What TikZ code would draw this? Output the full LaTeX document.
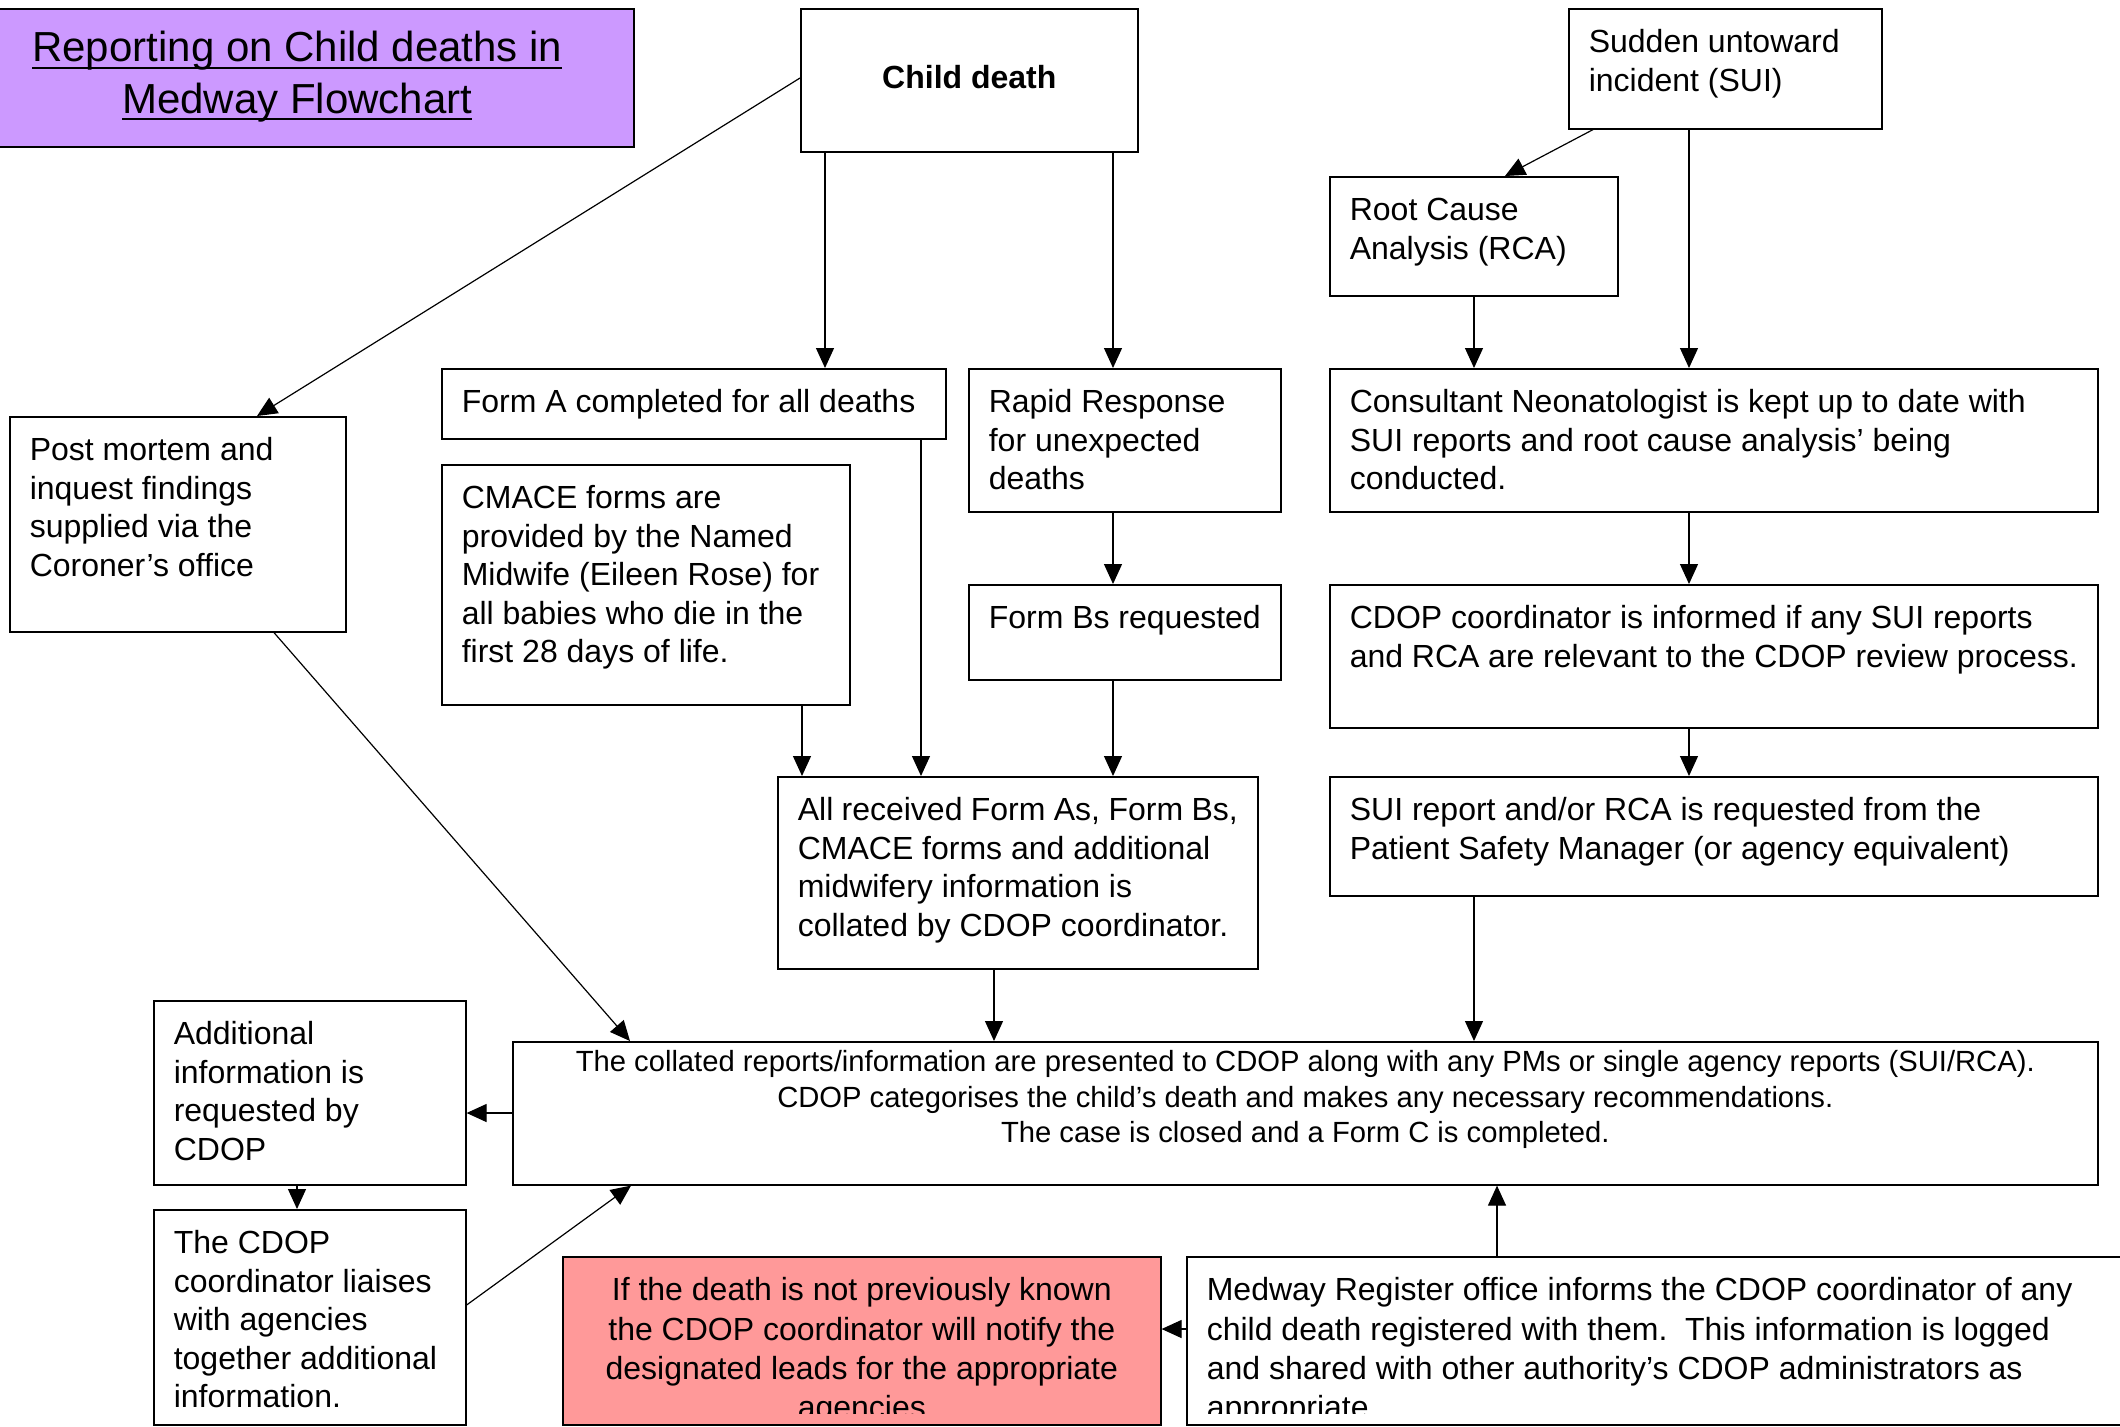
\documentclass[tikz,border=0pt]{standalone}
\usepackage{fontspec}
\setmainfont{Liberation Sans}
\usetikzlibrary{arrows.meta}
\definecolor{purp}{HTML}{CC99FF}
\definecolor{pinkfill}{HTML}{FF9999}
\newcommand\tx[4]{\parbox[c][\dimexpr 0.5pt*#2\relax][t]{\dimexpr 0.5pt*#1-20pt\relax}{#3#4}}
\newcommand\tl{\raggedright\rule{0pt}{22pt}}
\newcommand\ulx[1]{\leavevmode\setbox0\hbox{#1}\rlap{\rule[-3.6pt]{\wd0}{1pt}}\box0}
\begin{document}
\begin{tikzpicture}[x=0.5pt,y=-0.5pt,
  box/.style={draw, line width=0.8pt, anchor=north west, inner xsep=10pt, inner ysep=0pt,
    font=\fontsize{16}{19.25}\selectfont},
  arr/.style={line width=0.6pt, -{Triangle[length=10pt,width=9pt]}}]
\useasboundingbox (0,0) rectangle (2120,1426);
\fill[white] (0,0) rectangle (2120,1426);

% title
\node[box, fill=purp, inner xsep=0pt, font=\fontsize{21}{25.8}\selectfont] (title) at (-40,8)
  {\parbox[c][69pt][c]{336.5pt}{\centering\vspace*{-0.7pt}\ulx{Reporting on Child deaths in}\\\ulx{Medway Flowchart}\par\vspace*{0.7pt}}};

\node[box, inner xsep=0pt] (cd) at (800,8)
  {\parbox[c][71.5pt][c]{168.5pt}{\centering\raisebox{3.5pt}{\bfseries Child death}}};
\node[box] (sui) at (1568,8) {\tx{313}{120}{\tl}{Sudden untoward\\incident (SUI)}};
\node[box] (rca) at (1329,176) {\tx{288}{119}{\tl}{Root Cause\\Analysis (RCA)}};
\node[box] (pm) at (9,416) {\tx{336}{215}{\tl}{Post mortem and\\inquest findings\\supplied via the\\Coroner’s office}};
\node[box] (fa) at (441,368) {\tx{504}{70}{\tl}{Form A completed for all deaths}};
\node[box] (cm) at (441,464) {\tx{408}{240}{\tl}{CMACE forms are\\provided by the Named\\Midwife (Eileen Rose) for\\all babies who die in the\\first 28 days of life.}};
\node[box] (rr) at (968,368) {\tx{312}{143}{\tl}{Rapid Response\\for unexpected\\deaths}};
\node[box] (fb) at (968,584) {\tx{312}{95}{\tl}{Form Bs requested}};
\node[box] (con) at (1329,368) {\tx{768}{143}{\tl}{Consultant Neonatologist is kept up to date with\\SUI reports and root cause analysis’ being\\conducted.}};
\node[box] (ci) at (1329,584) {\tx{768}{143}{\tl}{CDOP coordinator is informed if any SUI reports\\and RCA are relevant to the CDOP review process.}};
\node[box] (sr) at (1329,776) {\tx{768}{119}{\tl}{SUI report and/or RCA is requested from the\\Patient Safety Manager (or agency equivalent)}};
\node[box] (ar) at (777,776) {\tx{480}{192}{\tl}{All received Form As, Form Bs,\\CMACE forms and additional\\midwifery information is\\collated by CDOP coordinator.}};
\node[box, font=\fontsize{14.6}{17.6}\selectfont] (col) at (512,1041)
  {\tx{1585}{143}{\centering\rule{0pt}{15pt}}{The collated reports/information are presented to CDOP along with any PMs or single agency reports (SUI/RCA).\\CDOP categorises the child’s death and makes any necessary recommendations.\\The case is closed and a Form C is completed.}};
\node[box] (add) at (153,1000) {\tx{312}{184}{\tl}{Additional\\information is\\requested by\\CDOP}};
\node[box] (li) at (153,1209) {\tx{312}{215}{\tl}{The CDOP\\coordinator liaises\\with agencies\\together additional\\information.}};

% bottom boxes with clipped text
\node[box, fill=pinkfill, inner sep=0pt, minimum width=299pt, minimum height=84pt] (red) at (562,1256) {};
\node[box, fill=white, inner sep=0pt, minimum width=472.5pt, minimum height=84pt] (med) at (1186,1256) {};
\begin{scope}
  \clip (red.north west) rectangle (red.east |- 0,1413);
  \node[box, draw=none, font=\fontsize{16}{19.6}\selectfont] at (red.north west)
    {\tx{598}{168}{\centering\rule{0pt}{22pt}}{If the death is not previously known\\the CDOP coordinator will notify the\\designated leads for the appropriate\\agencies}};
\end{scope}
\begin{scope}
  \clip (med.north west) rectangle (med.east |- 0,1413);
  \node[box, draw=none, font=\fontsize{16}{19.6}\selectfont] at (med.north west)
    {\tx{945}{168}{\tl}{Medway Register office informs the CDOP coordinator of any\\child death registered with them.\ \ This information is logged\\and shared with other authority’s CDOP administrators as\\appropriate.}};
\end{scope}

% connectors
\draw[arr] (cd.west |- 0,78) -- (pm.north -| 257,0);
\draw[arr] (cd.south -| 825,0) -- (fa.north -| 825,0);
\draw[arr] (cd.south -| 1113,0) -- (rr.north -| 1113,0);
\draw[arr] (sui.south -| 1593,0) -- (rca.north -| 1505,0);
\draw[arr] (sui.south -| 1689,0) -- (con.north -| 1689,0);
\draw[arr] (rca.south -| 1474,0) -- (con.north -| 1474,0);
\draw[arr] (con.south -| 1689,0) -- (ci.north -| 1689,0);
\draw[arr] (ci.south -| 1689,0) -- (sr.north -| 1689,0);
\draw[arr] (sr.south -| 1474,0) -- (col.north -| 1474,0);
\draw[arr] (rr.south -| 1113,0) -- (fb.north -| 1113,0);
\draw[arr] (fb.south -| 1113,0) -- (ar.north -| 1113,0);
\draw[arr] (cm.south -| 802,0) -- (ar.north -| 802,0);
\draw[arr] (fa.south -| 921,0) -- (ar.north -| 921,0);
\draw[arr] (ar.south -| 994,0) -- (col.north -| 994,0);
\draw[arr] (pm.south -| 274,0) -- (col.north -| 630,0);
\draw[arr] (col.west |- 0,1113) -- (add.east |- 0,1113);
\draw[arr] (add.south -| 297,0) -- (li.north -| 297,0);
\draw[arr] (li.east |- 0,1305) -- (col.south -| 631,0);
\draw[arr] (med.north -| 1497,0) -- (col.south -| 1497,0);
\draw[arr] (med.west |- 0,1329) -- (red.east |- 0,1329);
\end{tikzpicture}
\end{document}
